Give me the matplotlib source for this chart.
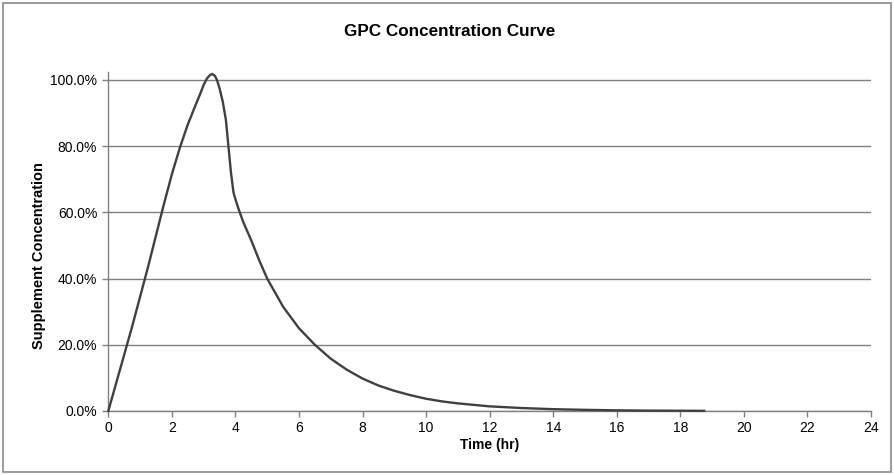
import matplotlib
matplotlib.use("Agg")
import matplotlib.pyplot as plt
from matplotlib.patches import Rectangle
from matplotlib.ticker import PercentFormatter

plt.rcParams['font.family'] = ['Liberation Sans', 'DejaVu Sans']

# hours after dose vs. fraction of peak concentration
hours = [0, 0.25, 0.5, 0.75, 1.0, 1.25, 1.5, 1.75, 2.0, 2.25, 2.5, 2.75, 2.9,
         3.0, 3.1, 3.2, 3.27, 3.35, 3.42, 3.5, 3.6, 3.7, 3.78, 3.86, 3.94,
         4.0, 4.1, 4.25, 4.5, 4.75, 5.0, 5.5, 6.0, 6.5, 7.0, 7.5, 8.0, 8.5,
         9.0, 9.5, 10.0, 10.5, 11.0, 12.0, 13.0, 14.0, 15.0, 16.0, 17.0, 18.0,
         18.75]
conc = [0.0, 0.085, 0.17, 0.255, 0.345, 0.435, 0.53, 0.625, 0.715, 0.795,
        0.865, 0.925, 0.96, 0.985, 1.004, 1.015, 1.018, 1.013, 1.0, 0.975,
        0.935, 0.88, 0.80, 0.72, 0.66, 0.64, 0.61, 0.57, 0.515, 0.455, 0.40,
        0.315, 0.25, 0.20, 0.158, 0.125, 0.098, 0.077, 0.061, 0.048, 0.037,
        0.029, 0.023, 0.014, 0.009, 0.0055, 0.0035, 0.002, 0.0012, 0.0008,
        0.0005]

xticks = list(range(0, 25, 2))
yticks = [0.0, 0.2, 0.4, 0.6, 0.8, 1.0]

fig = plt.figure(figsize=(8.94, 4.75), dpi=100)
fig.patches.append(Rectangle((3 / 894, 3 / 475), 888 / 894, 469 / 475,
                             transform=fig.transFigure, fill=False,
                             edgecolor='#8a8a8a', linewidth=1.2))

ax = fig.add_axes([108.3 / 894, 1 - 411 / 475, 762.7 / 894, 339.3 / 475])
ax.plot(hours, conc, color='#404040', linewidth=1.7, clip_on=False, zorder=3,
        solid_joinstyle='round')

ax.set_xlim(0, 24)
ax.set_ylim(0, 1.025)
ax.set_xticks(xticks)
ax.set_yticks(yticks)
ax.yaxis.set_major_formatter(PercentFormatter(1.0, decimals=1))
ax.grid(axis='y', color='#808080', linewidth=1.0)
ax.set_axisbelow(True)

for s in ['top', 'right']:
    ax.spines[s].set_visible(False)
for s in ['left', 'bottom']:
    ax.spines[s].set_color('#808080')
    ax.spines[s].set_linewidth(1.0)

ax.tick_params(axis='both', colors='#808080', labelcolor='black',
               labelsize=10, length=4, width=1.0, direction='out')
ax.tick_params(axis='y', pad=4)
ax.tick_params(axis='x', pad=3)

ax.set_xlabel('Time (hr)', fontsize=10, fontweight='bold', labelpad=2)
ax.set_ylabel('Supplement Concentration', fontsize=10.5, fontweight='bold')
ax.yaxis.set_label_coords(-0.082, 0.457)
fig.text(450 / 894, 1 - 31 / 475, 'GPC Concentration Curve', fontsize=12.3,
         fontweight='bold', ha='center', va='center')

fig.savefig('out.png', dpi=100)
